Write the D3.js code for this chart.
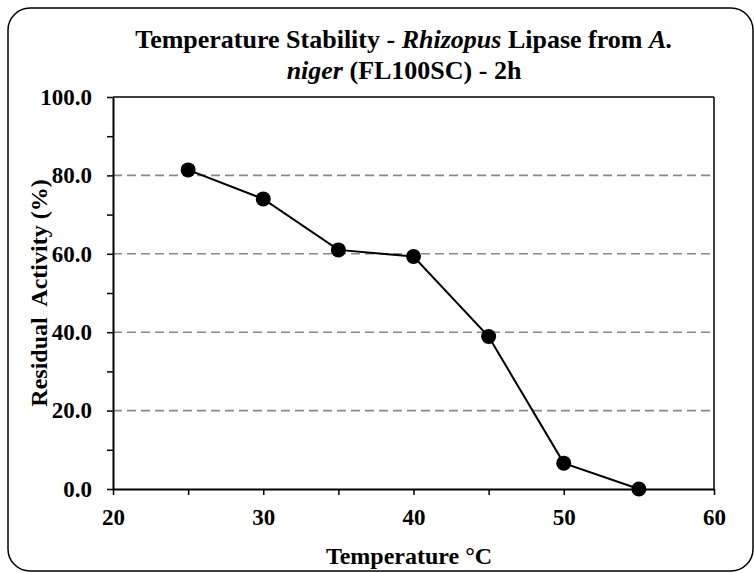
<!DOCTYPE html>
<html>
<head>
<meta charset="utf-8">
<script src="https://cdn.jsdelivr.net/npm/d3@7"></script>
<style>
  body { margin: 0; background: #fff; }
  text { font-family: "Liberation Serif", "Times New Roman", serif; font-weight: bold; }
</style>
</head>
<body>
<script>
// data
var temps = [25, 30, 35, 40, 45, 50, 55];
var activity = [81.4, 74.0, 61.0, 59.3, 38.9, 6.6, 0.0];
var xTicks = [20, 30, 40, 50, 60];
var yTicks = [0, 20, 40, 60, 80, 100];

var W = 754, H = 573;
var margin = {top: 97, right: 40, bottom: 84, left: 113},
    width = W - margin.left - margin.right,
    height = H - margin.top - margin.bottom;

var svg = d3.select("body").append("svg")
    .attr("width", W)
    .attr("height", H);

// outer rounded frame
svg.append("rect")
    .attr("x", 8).attr("y", 8)
    .attr("width", W - 9).attr("height", H - 10)
    .attr("rx", 22).attr("ry", 22)
    .style("fill", "none")
    .style("stroke", "black")
    .style("stroke-width", 1.5);

var g = svg.append("g")
    .attr("transform", "translate(" + margin.left + "," + margin.top + ")");

var x = d3.scaleLinear().domain([20, 60]).range([0, width]);
var y = d3.scaleLinear().domain([0, 100]).range([height, 0]);

// dashed gridlines
g.append("g")
  .selectAll("line")
  .data(yTicks.filter(function(d) { return d > 0 && d < 100; }))
  .enter().append("line")
    .attr("x1", 0).attr("x2", width)
    .attr("y1", function(d) { return y(d); })
    .attr("y2", function(d) { return y(d); })
    .style("stroke", "#888")
    .style("stroke-width", 1.6)
    .style("stroke-dasharray", "9,5");

// minor ticks
g.append("g")
    .attr("transform", "translate(0," + height + ")")
    .call(d3.axisBottom(x).tickValues(d3.range(25, 60, 10)).tickSize(6).tickFormat(""))
    .call(function(a) { a.select(".domain").remove(); });
g.append("g")
    .call(d3.axisLeft(y).tickValues(d3.range(10, 100, 20)).tickSize(6).tickFormat(""))
    .call(function(a) { a.select(".domain").remove(); });

// Add the X Axis
var xAxis = g.append("g")
    .attr("transform", "translate(0," + height + ")")
    .call(d3.axisBottom(x).tickValues(xTicks).tickSize(6).tickSizeOuter(0).tickPadding(14));
xAxis.selectAll("text").style("font-size", "23px").style("fill", "black");

// Add the Y Axis
var yAxis = g.append("g")
    .call(d3.axisLeft(y).tickValues(yTicks).tickSize(6).tickSizeOuter(0).tickPadding(15)
      .tickFormat(d3.format(".1f")));
yAxis.selectAll("text").style("font-size", "23px").style("fill", "black");

g.selectAll(".domain").style("stroke-width", 2);
g.selectAll(".tick line").style("stroke-width", 1.5);

// top and right frame of the plot
g.append("line").attr("x1", 0).attr("x2", width).attr("y1", 0).attr("y2", 0)
    .style("stroke", "black").style("stroke-width", 1.5);
g.append("line").attr("x1", width).attr("x2", width).attr("y1", 0).attr("y2", height)
    .style("stroke", "black").style("stroke-width", 1.5);

// the line
var line = d3.line()
    .x(function(d, i) { return x(temps[i]); })
    .y(function(d) { return y(d); });

g.append("path")
    .attr("d", line(activity))
    .style("fill", "none")
    .style("stroke", "black")
    .style("stroke-width", 2);

g.selectAll(".dot")
    .data(activity)
  .enter().append("circle")
    .attr("cx", function(d, i) { return x(temps[i]); })
    .attr("cy", function(d) { return y(d); })
    .attr("r", 7.5)
    .style("fill", "black");

// title, two lines
var title = svg.append("text")
    .attr("x", 404).attr("y", 48)
    .attr("text-anchor", "middle")
    .style("font-size", "26px");
title.append("tspan").text("Temperature Stability - ");
title.append("tspan").style("font-style", "italic").text("Rhizopus");
title.append("tspan").text(" Lipase from ");
title.append("tspan").style("font-style", "italic").text("A.");

var title2 = svg.append("text")
    .attr("x", 404).attr("y", 79)
    .attr("text-anchor", "middle")
    .style("font-size", "26px");
title2.append("tspan").style("font-style", "italic").text("niger");
title2.append("tspan").text(" (FL100SC) - 2h");

// axis titles
svg.append("text")
    .attr("x", 409).attr("y", 564)
    .attr("text-anchor", "middle")
    .style("font-size", "24px")
    .text("Temperature \u00B0C");

svg.append("text")
    .attr("transform", "translate(47,293) rotate(-90)")
    .attr("text-anchor", "middle")
    .style("font-size", "24px")
    .text("Residual\u00A0 Activity (%)");
</script>
</body>
</html>
